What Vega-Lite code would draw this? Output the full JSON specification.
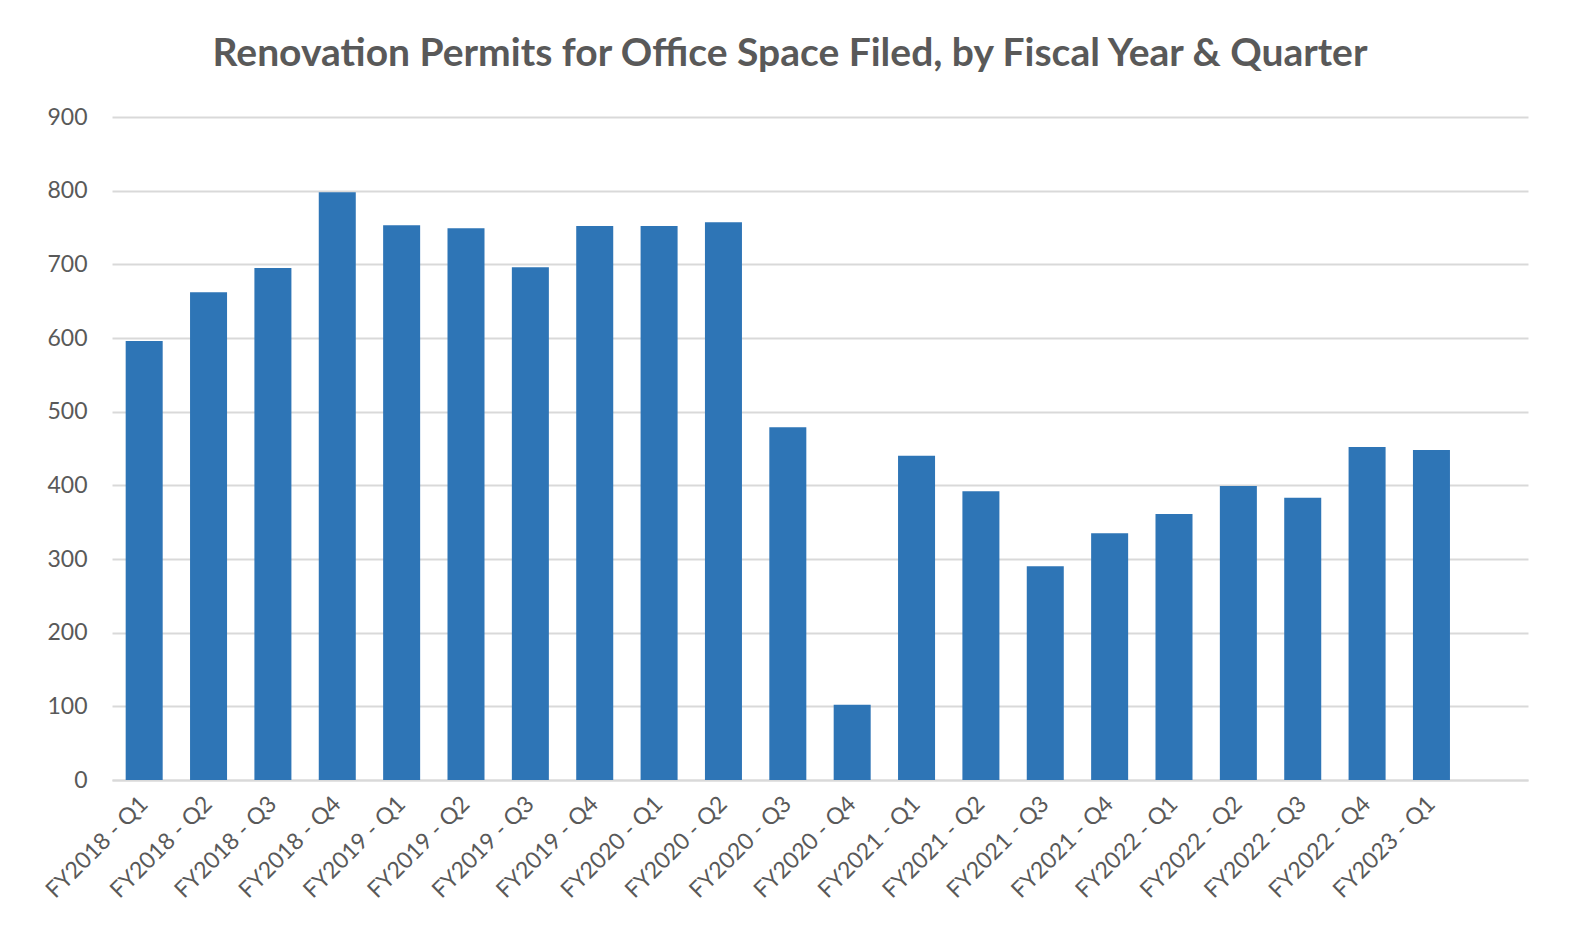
{
  "$schema": "https://vega.github.io/schema/vega-lite/v6.json",
  "width": 1416,
  "height": 663,
  "autosize": {"type": "none"},
  "padding": {"left": 112, "top": 117, "right": 42, "bottom": 153},
  "background": "white",
  "title": {
    "text": "Renovation Permits for Office Space Filed, by Fiscal Year & Quarter",
    "font": "Lato",
    "fontSize": 39,
    "fontWeight": "bold",
    "color": "#595959",
    "anchor": "middle",
    "dx": -30,
    "offset": 32
  },
  "data": {
    "values": [
      {"period": "FY2018 - Q1", "permits": 596},
      {"period": "FY2018 - Q2", "permits": 662},
      {"period": "FY2018 - Q3", "permits": 695},
      {"period": "FY2018 - Q4", "permits": 798},
      {"period": "FY2019 - Q1", "permits": 753},
      {"period": "FY2019 - Q2", "permits": 749},
      {"period": "FY2019 - Q3", "permits": 696},
      {"period": "FY2019 - Q4", "permits": 752},
      {"period": "FY2020 - Q1", "permits": 752},
      {"period": "FY2020 - Q2", "permits": 757},
      {"period": "FY2020 - Q3", "permits": 479},
      {"period": "FY2020 - Q4", "permits": 102},
      {"period": "FY2021 - Q1", "permits": 440},
      {"period": "FY2021 - Q2", "permits": 392},
      {"period": "FY2021 - Q3", "permits": 290},
      {"period": "FY2021 - Q4", "permits": 335},
      {"period": "FY2022 - Q1", "permits": 361},
      {"period": "FY2022 - Q2", "permits": 399},
      {"period": "FY2022 - Q3", "permits": 383},
      {"period": "FY2022 - Q4", "permits": 452},
      {"period": "FY2023 - Q1", "permits": 448}
    ]
  },
  "mark": {"type": "bar", "color": "#2E75B6"},
  "encoding": {
    "x": {
      "field": "period",
      "type": "nominal",
      "sort": null,
      "scale": {
        "domain": ["FY2018 - Q1","FY2018 - Q2","FY2018 - Q3","FY2018 - Q4","FY2019 - Q1","FY2019 - Q2","FY2019 - Q3","FY2019 - Q4","FY2020 - Q1","FY2020 - Q2","FY2020 - Q3","FY2020 - Q4","FY2021 - Q1","FY2021 - Q2","FY2021 - Q3","FY2021 - Q4","FY2022 - Q1","FY2022 - Q2","FY2022 - Q3","FY2022 - Q4","FY2023 - Q1",""],
        "paddingInner": 0.425,
        "paddingOuter": 0.2125
      },
      "axis": {
        "title": null,
        "labelAngle": -45,
        "labelAlign": "right",
        "labelBaseline": "middle",
        "labelPadding": 20,
        "labelFont": "Lato",
        "labelFontSize": 23,
        "labelColor": "#595959",
        "ticks": false,
        "domainColor": "#d9d9d9",
        "domainWidth": 2,
        "grid": false
      }
    },
    "y": {
      "field": "permits",
      "type": "quantitative",
      "scale": {"domain": [0, 900]},
      "axis": {
        "title": null,
        "values": [0,100,200,300,400,500,600,700,800,900],
        "labelFont": "Lato",
        "labelFontSize": 23,
        "labelColor": "#595959",
        "labelPadding": 25,
        "ticks": false,
        "domain": false,
        "grid": true,
        "gridColor": "#d9d9d9",
        "gridWidth": 2
      }
    }
  },
  "config": {"view": {"stroke": null}}
}
